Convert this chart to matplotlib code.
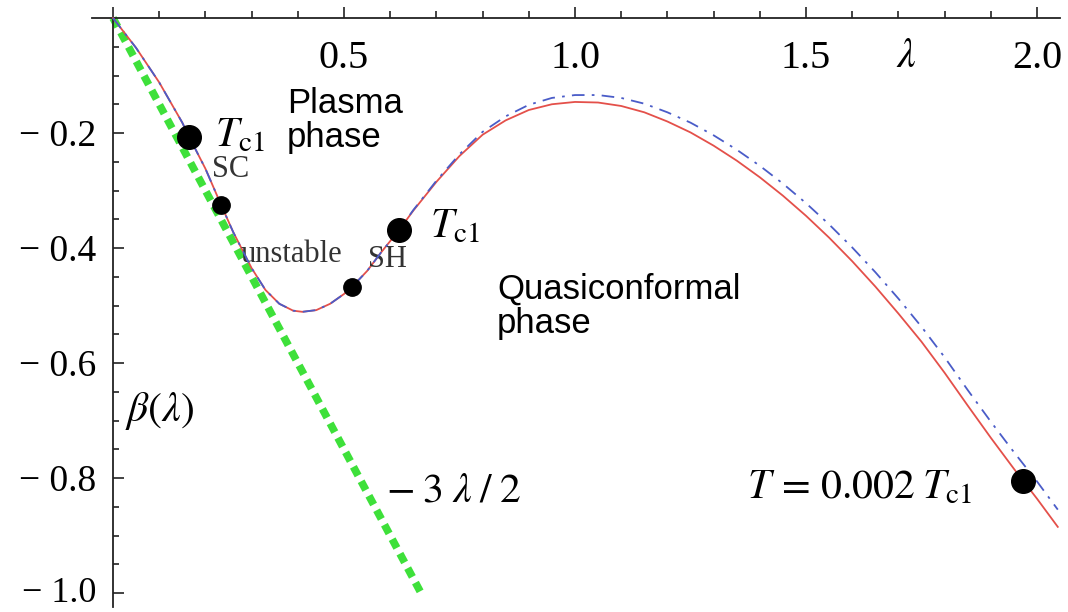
import matplotlib
matplotlib.use("Agg")
import matplotlib.pyplot as plt
from matplotlib.ticker import FixedLocator, FixedFormatter

plt.rcParams['mathtext.fontset'] = 'stix'
plt.rcParams['font.family'] = ['Liberation Serif', 'DejaVu Serif']

# beta(lambda)
lam = [0.0, 0.05, 0.10, 0.15, 0.165, 0.20, 0.234, 0.26, 0.30, 0.33, 0.36, 0.39,
       0.41, 0.44, 0.47, 0.50, 0.517, 0.55, 0.58, 0.619, 0.65, 0.70, 0.75, 0.80,
       0.85, 0.90, 0.95, 1.00, 1.05, 1.10, 1.15, 1.20, 1.25, 1.30, 1.35, 1.40,
       1.45, 1.50, 1.55, 1.60, 1.65, 1.70, 1.75, 1.80, 1.85, 1.90, 1.95, 2.00, 2.045]
beta_red = [0.0, -0.052, -0.112, -0.182, -0.207, -0.262, -0.325, -0.372, -0.435,
            -0.473, -0.497, -0.509, -0.511, -0.508, -0.497, -0.480, -0.468, -0.440,
            -0.408, -0.369, -0.335, -0.285, -0.240, -0.203, -0.178, -0.160, -0.150,
            -0.146, -0.147, -0.153, -0.164, -0.180, -0.199, -0.222, -0.248, -0.277,
            -0.309, -0.344, -0.382, -0.423, -0.467, -0.514, -0.563, -0.617, -0.674,
            -0.730, -0.784, -0.836, -0.885]
beta_blue = [0.0, -0.052, -0.112, -0.182, -0.207, -0.262, -0.325, -0.372, -0.435,
             -0.473, -0.497, -0.509, -0.511, -0.508, -0.497, -0.480, -0.468, -0.440,
             -0.408, -0.369, -0.334, -0.283, -0.237, -0.198, -0.171, -0.151, -0.139,
             -0.134, -0.134, -0.139, -0.149, -0.164, -0.182, -0.204, -0.229, -0.257,
             -0.288, -0.322, -0.359, -0.399, -0.442, -0.488, -0.537, -0.590, -0.647,
             -0.702, -0.755, -0.806, -0.855]

# -3 lambda / 2 line
green_lam = [0.0, 0.67]
green_beta = [0.0, -1.005]

# transition points
big_lam = [0.165, 0.619, 1.97]
big_beta = [-0.207, -0.369, -0.805]
small_lam = [0.234, 0.517]
small_beta = [-0.325, -0.468]

xticks = [0.0, 0.5, 1.0, 1.5, 2.0]
xtick_labels = ['', '0.5', '1.0', '1.5', '2.0']
xminor = [0.1, 0.2, 0.3, 0.4, 0.6, 0.7, 0.8, 0.9, 1.1, 1.2, 1.3, 1.4, 1.6, 1.7, 1.8, 1.9]
yticks = [-0.2, -0.4, -0.6, -0.8, -1.0]
ytick_labels = ['\u2212 0.2', '\u2212 0.4', '\u2212 0.6', '\u2212 0.8', '\u2212 1.0']
yminor = [-0.05, -0.1, -0.15, -0.25, -0.3, -0.35, -0.45, -0.5, -0.55,
          -0.65, -0.7, -0.75, -0.85, -0.9, -0.95]

fig = plt.figure(figsize=(10.68, 6.12), dpi=100)
ax = fig.add_axes([0, 0, 1, 1])
ax.set_xlim(-113 / 462, (1068 - 113) / 462)
ax.set_ylim(-(612 - 18) / 575, 18 / 575)

ax.plot(green_lam, green_beta, color='#3ee03a', lw=5.5,
        linestyle=(0, (1.3, 0.85)), solid_capstyle='butt', zorder=2)
ax.plot(lam, beta_red, color='#e4504a', lw=1.3, zorder=3)
ax.plot(lam, beta_blue, color='#4a5cc8', lw=1.3, linestyle=(0, (7, 4, 1.5, 4)), zorder=4)
ax.plot(big_lam, big_beta, 'o', color='black', ms=17, zorder=5)
ax.plot(small_lam, small_beta, 'o', color='black', ms=12.5, zorder=5)

# axes through the origin, Mathematica style
for s in ['right', 'top']:
    ax.spines[s].set_visible(False)
ax.spines['left'].set_position(('data', 0))
ax.spines['bottom'].set_position(('data', 0))
ax.spines['left'].set_bounds(-1.024, 0)
ax.spines['bottom'].set_bounds(-0.045, 2.05)
for s in ['left', 'bottom']:
    ax.spines[s].set_linewidth(1.3)
    ax.spines[s].set_color('#222222')

ax.xaxis.set_major_locator(FixedLocator(xticks))
ax.xaxis.set_major_formatter(FixedFormatter(xtick_labels))
ax.xaxis.set_minor_locator(FixedLocator(xminor))
ax.yaxis.set_major_locator(FixedLocator(yticks))
ax.yaxis.set_major_formatter(FixedFormatter(ytick_labels))
ax.yaxis.set_minor_locator(FixedLocator(yminor))
ax.tick_params(which='both', direction='in', color='#222222', width=1.2)
ax.tick_params(axis='x', which='major', length=8, pad=16, labelsize=29)
ax.tick_params(axis='x', which='minor', length=5)
ax.tick_params(axis='y', which='major', length=8, pad=12, labelsize=27)
ax.tick_params(axis='y', which='minor', length=4.5)
# keep the bottom label inside the picture
fig.canvas.draw()
ax.get_yticklabels()[-1].set_va('center')
ax.get_yticklabels()[-1].set_fontsize(26)

ax.text(1.716, -0.085, r'$\lambda$', fontsize=30, ha='center', va='baseline')

ax.text(0.221, -0.224, r'$T_{\rm c1}$', fontsize=30, va='baseline')
ax.text(0.214, -0.277, 'SC', fontsize=22, va='baseline', color='#333333')
ax.text(0.275, -0.424, 'unstable', fontsize=22, va='baseline', color='#333333')
ax.text(0.552, -0.433, 'SH', fontsize=22, va='baseline', color='#333333')
ax.text(0.686, -0.381, r'$T_{\rm c1}$', fontsize=30, va='baseline')
ax.text(1.861, -0.835, r'$T\,=\,0.002\;T_{\rm c1}$', fontsize=30, ha='right', va='baseline')
ax.text(0.025, -0.700, r'$\beta(\lambda)$', fontsize=30, va='baseline')
ax.text(0.59, -0.84, r'$-\;3\;\lambda\;/\;2$', fontsize=30, va='baseline')

ax.text(0.377, -0.12, 'Plasma\nphase', fontsize=25, family=['Liberation Sans', 'DejaVu Sans'],
        va='top', linespacing=1.05)
ax.text(0.831, -0.443, 'Quasiconformal\nphase', fontsize=25, family=['Liberation Sans', 'DejaVu Sans'],
        va='top', linespacing=1.05)

fig.savefig('out.png', dpi=100)
